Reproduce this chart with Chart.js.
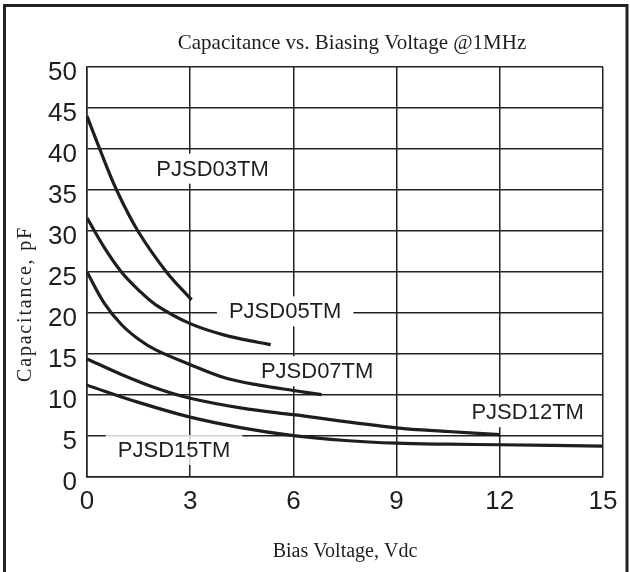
<!DOCTYPE html>
<html>
<head>
<meta charset="utf-8">
<script src="https://cdn.jsdelivr.net/npm/chart.js@4/dist/chart.umd.min.js"></script>
<style>
  html, body { margin: 0; padding: 0; background: #fff; }
  #wrap { width: 630px; height: 572px; position: relative; }
</style>
</head>
<body>
<div id="wrap"><canvas id="chartCap"></canvas></div>
<script>
// curvas (tensão Vdc -> capacitância pF)
const v03 = [0, 0.37, 0.86, 1.48, 2.31, 3.04];
const c03 = [44, 40, 35, 30, 25, 21.6];

const v05 = [0, 0.5, 1, 1.5, 2, 3, 4, 5, 5.34];
const c05 = [31.6, 28, 25, 22.8, 21, 18.7, 17.3, 16.4, 16.15];

const v07 = [0, 0.5, 1, 1.5, 2, 3, 4, 5, 6, 6.82];
const c07 = [25, 21.2, 18.6, 16.8, 15.5, 13.7, 12.1, 11.2, 10.55, 10.05];

const v12 = [0, 1, 2, 3, 4.5, 6, 9, 10.5, 12];
const c12 = [14.4, 12.5, 10.85, 9.6, 8.4, 7.6, 6.0, 5.55, 5.17];

const v15 = [0, 1.5, 3, 4.5, 6, 7.5, 9, 10.5, 12, 15];
const c15 = [11.2, 9.1, 7.3, 6.0, 5.05, 4.45, 4.12, 4.0, 3.93, 3.76];

const seriesNames = ["PJSD03TM", "PJSD05TM", "PJSD07TM", "PJSD12TM", "PJSD15TM"];
// posição dos rótulos em coordenadas do gráfico
const labelX = [3.65, 5.76, 6.69, 12.81, 2.53];
const labelY = [37.6, 20.2, 12.9, 7.9, 3.3];

const titleText = "Capacitance vs. Biasing Voltage @1MHz";
const xTitle = "Bias Voltage, Vdc";
const yTitle = "Capacitance, pF";

const ink = '#1e1e1e';
const sans = "'Liberation Sans', Arial, sans-serif";
const serif = "'Liberation Serif', 'Times New Roman', serif";

const toPoints = (xs, ys) => xs.map((x, i) => ({ x: x, y: ys[i] }));

const curves = [[v03, c03], [v05, c05], [v07, c07], [v12, c12], [v15, c15]];

const decor = {
    id: 'decor',
    beforeDatasetsDraw(chart) {
        // caixas brancas atrás dos rótulos (escondem a grade)
        const { ctx, scales } = chart;
        ctx.save();
        ctx.font = '22px ' + sans;
        seriesNames.forEach((name, i) => {
            const px = scales.x.getPixelForValue(labelX[i]);
            const py = scales.y.getPixelForValue(labelY[i]);
            const w = ctx.measureText(name).width;
            ctx.fillStyle = i === 4 ? 'rgba(255,255,255,0.8)' : '#fff';
            ctx.fillRect(px - w / 2 - 12, py - 15, w + 24, 30);
        });
        ctx.restore();
    },
    afterDatasetsDraw(chart) {
        const { ctx, scales } = chart;
        ctx.save();
        ctx.font = '22px ' + sans;
        ctx.fillStyle = ink;
        ctx.textAlign = 'center';
        ctx.textBaseline = 'middle';
        seriesNames.forEach((name, i) => {
            ctx.fillText(name, scales.x.getPixelForValue(labelX[i]), scales.y.getPixelForValue(labelY[i]) + 1);
        });
        ctx.restore();
    },
    afterDraw(chart) {
        const { ctx, chartArea } = chart;
        ctx.save();
        ctx.fillStyle = ink;
        ctx.textAlign = 'center';
        ctx.textBaseline = 'middle';

        ctx.font = '21px ' + serif;
        ctx.fillText(titleText, 352, 43);

        ctx.font = '20px ' + serif;
        ctx.fillText(xTitle, (chartArea.left + chartArea.right) / 2, 552);

        ctx.translate(26, 304);
        ctx.rotate(-Math.PI / 2);
        ctx.letterSpacing = '1.8px';
        ctx.fillText(yTitle, 0, 0);
        ctx.restore();

        // moldura externa
        ctx.save();
        ctx.strokeStyle = '#222';
        ctx.lineWidth = 3;
        ctx.beginPath();
        ctx.moveTo(4.5, 580);
        ctx.lineTo(4.5, 5.5);
        ctx.lineTo(627, 5.5);
        ctx.lineTo(627, 580);
        ctx.stroke();
        ctx.restore();
    }
};

const ctx = document.getElementById('chartCap').getContext('2d');
new Chart(ctx, {
    type: 'line',
    data: {
        datasets: curves.map((c, i) => ({
            label: seriesNames[i],
            data: toPoints(c[0], c[1]),
            borderColor: ink,
            borderWidth: 3.2,
            pointRadius: 0,
            fill: false,
            tension: 0.35
        }))
    },
    options: {
        responsive: true,
        maintainAspectRatio: false,
        animation: false,
        layout: { padding: { left: 0, top: 67, right: 27, bottom: 0 } },
        plugins: {
            legend: { display: false },
            tooltip: { enabled: false }
        },
        scales: {
            x: {
                type: 'linear',
                min: 0,
                max: 15,
                ticks: { stepSize: 3, color: ink, font: { family: sans, size: 26 }, padding: 9 },
                grid: { color: '#222', lineWidth: 1.5, drawTicks: false },
                border: { color: '#222', width: 1.5 },
                afterFit: (scale) => { scale.height = 95; }
            },
            y: {
                min: 0,
                max: 50,
                ticks: { stepSize: 5, color: ink, font: { family: sans, size: 26 }, padding: 10, labelOffset: 6 },
                grid: { color: '#222', lineWidth: 1.5, drawTicks: false },
                border: { color: '#222', width: 1.5 },
                afterFit: (scale) => { scale.width = 87; }
            }
        }
    },
    plugins: [decor]
});
</script>
</body>
</html>
